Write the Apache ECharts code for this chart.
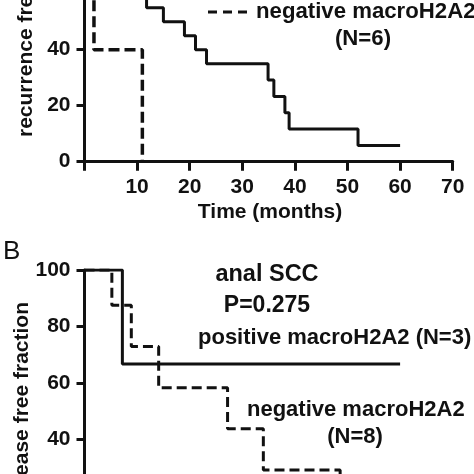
<!DOCTYPE html>
<html>
<head>
<meta charset="utf-8">
<script src="https://cdn.jsdelivr.net/npm/echarts@6/dist/echarts.min.js"></script>
<style>
  html, body { margin: 0; padding: 0; background: #fff; }
  #chart { width: 474px; height: 474px; }
</style>
</head>
<body>
<div id="chart"></div>
<script>
// panel A (top, cropped): recurrence free fraction
var aPosTime = [0, 11.8, 15, 19, 21.1, 23.2, 34.9, 36, 38.1, 38.9, 52, 60];
var aPosSurv = [100, 55, 50, 45, 40, 35, 29.2, 23.3, 17.5, 11.7, 5.8, 5.8];
var aNegTime = [0, 1.8, 11];
var aNegSurv = [100, 40, 0];

// panel B (bottom, cropped): anal SCC
var bPosTime = [0, 7.2, 60];
var bPosSurv = [100, 66.7, 66.7];
var bNegTime = [0, 5.2, 8.9, 14.1, 27.2, 34, 48.6];
var bNegSurv = [100, 87.5, 72.9, 58.3, 43.8, 29.2, 14.6];

var xTicks = [0, 10, 20, 30, 40, 50, 60, 70];
var yTicks = [0, 20, 40, 60, 80, 100];

function pairs(t, s) {
    var out = [];
    for (var i = 0; i < t.length; i++) out.push([t[i], s[i]]);
    return out;
}

var font = 'Liberation Sans, Arial, sans-serif';
var ink = '#111';

function xAxisFor(idx) {
    return {
        type: 'value', gridIndex: idx,
        min: xTicks[0], max: xTicks[xTicks.length - 1], interval: 10,
        axisLine: { show: true, onZero: false, lineStyle: { color: ink, width: 3 } },
        axisTick: { show: true, length: 9, lineStyle: { color: ink, width: 3 } },
        axisLabel: {
            color: ink, fontFamily: font, fontWeight: 'bold', fontSize: 21, margin: 15,
            formatter: function (v) { return v === 0 ? '' : v; }
        },
        splitLine: { show: false }
    };
}

function yAxisFor(idx) {
    return {
        type: 'value', gridIndex: idx,
        min: yTicks[0], max: yTicks[yTicks.length - 1], interval: 20,
        axisLine: { show: true, lineStyle: { color: ink, width: 3 } },
        axisTick: { show: true, length: 8, lineStyle: { color: ink, width: 3 } },
        axisLabel: { color: ink, fontFamily: font, fontWeight: 'bold', fontSize: 21, margin: 14 },
        splitLine: { show: false }
    };
}

function txt(x, y, s, opt) {
    opt = opt || {};
    return {
        type: 'text', x: x, y: y, rotation: opt.rot || 0,
        style: {
            text: s, fill: ink, fontFamily: font,
            fontWeight: opt.weight || 'bold', fontSize: opt.size || 22,
            textAlign: opt.align || 'left', textVerticalAlign: 'middle'
        }
    };
}

var chart = echarts.init(document.getElementById('chart'));
chart.setOption({
    backgroundColor: '#fff',
    animation: false,
    grid: [
        { left: 84.5, right: 21.3, top: -118.3, height: 280, outerBoundsMode: 'none', containLabel: false },
        { left: 84.5, right: 21.3, top: 270, height: 282.5, outerBoundsMode: 'none', containLabel: false }
    ],
    xAxis: [xAxisFor(0), xAxisFor(1)],
    yAxis: [yAxisFor(0), yAxisFor(1)],
    series: [
        { type: 'line', step: 'end', xAxisIndex: 0, yAxisIndex: 0, data: pairs(aPosTime, aPosSurv),
          symbol: 'none', lineStyle: { color: ink, width: 3 } },
        { type: 'line', step: 'end', xAxisIndex: 0, yAxisIndex: 0, data: pairs(aNegTime, aNegSurv),
          symbol: 'none', lineStyle: { color: ink, width: 3.5, type: [11, 5] } },
        { type: 'line', step: 'end', xAxisIndex: 1, yAxisIndex: 1, data: pairs(bPosTime, bPosSurv),
          symbol: 'none', lineStyle: { color: ink, width: 3 } },
        { type: 'line', step: 'end', xAxisIndex: 1, yAxisIndex: 1, data: pairs(bNegTime, bNegSurv),
          symbol: 'none', lineStyle: { color: ink, width: 3, type: [10, 5] } }
    ],
    graphic: [
        // panel A legend
        { type: 'line', shape: { x1: 208, y1: 12, x2: 247, y2: 12 },
          style: { stroke: ink, lineWidth: 3, lineDash: [9, 6] } },
        txt(256, 12, 'negative macroH2A2', { size: 22.2 }),
        txt(363, 39, '(N=6)', { align: 'center', size: 22.2 }),
        txt(26, 137, 'recurrence free fraction', { rot: Math.PI / 2, size: 21 }),
        txt(270, 212, 'Time (months)', { align: 'center', size: 21 }),
        // panel B
        txt(3, 252, 'B', { weight: 'normal', size: 26 }),
        txt(267, 275, 'anal SCC', { align: 'center', size: 23.5 }),
        txt(267, 306, 'P=0.275', { align: 'center', size: 23 }),
        txt(198, 338, 'positive macroH2A2 (N=3)'),
        txt(247, 410, 'negative macroH2A2'),
        txt(355, 437, '(N=8)', { align: 'center' }),
        txt(22, 302, 'disease free fraction', { rot: Math.PI / 2, align: 'right', size: 21 })
    ]
});
</script>
</body>
</html>
